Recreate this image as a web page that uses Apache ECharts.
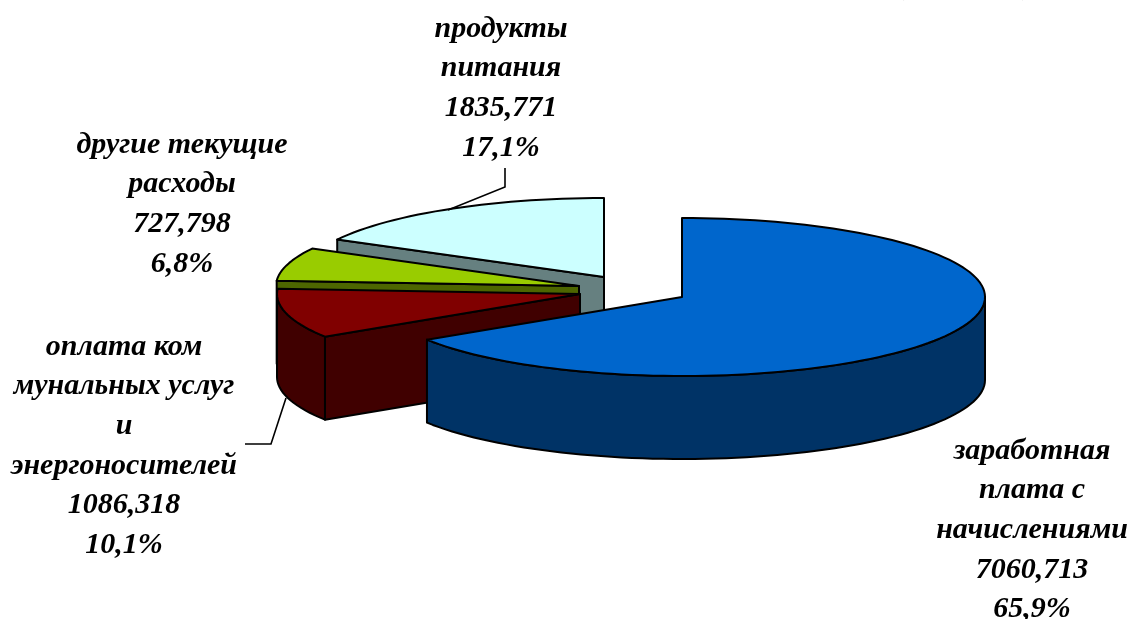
<!DOCTYPE html>
<html><head><meta charset="utf-8">
<style>html,body{margin:0;padding:0;background:#fff}#c{width:1128px;height:619px}</style>
<script src="https://cdn.jsdelivr.net/npm/echarts@6/dist/echarts.min.js"></script>
</head><body><div id="c"></div>
<script>
// Data
const categoryLines = [
  ['заработная','плата с','начислениями'],
  ['оплата ком','мунальных услуг','и','энергоносителей'],
  ['другие текущие','расходы'],
  ['продукты','питания']
];
const values = [7060.713, 1086.318, 727.798, 1835.771];
const valueLabels = ['7060,713','1086,318','727,798','1835,771'];
const percentLabels = ['65,9%','10,1%','6,8%','17,1%'];
const headerText = '(млн. грн.)';

// Presentation settings
const topColors  = ['#0066CC','#800000','#99CC00','#CCFFFF'];
const wallColors = ['#003366','#400000','#4D6600','#668080'];
const centers = [[682,297],[580,294],[579,286],[604,277]];
const labelAnchors = [[1032,451],[124,347],[182,145],[501,29]];
const RX = 303, RY = 79, DEPTH = 83, LINE_H = 39.6;
const leaders = [null, [[245,444],[271,444],[286,398]], null, [[505,168],[505,187],[448,210]]];
const drawOrder = [3,2,1,0]; // back slices first
const FONT = 'italic bold 30px "Liberation Serif","Times New Roman",serif';

const total = values.reduce((a,b)=>a+b,0);
const startAngles = []; // clockwise from 12 o'clock, degrees
let acc = 0;
values.forEach(v => { startAngles.push(acc/total*360); acc += v; });

function pt(c, deg, dz, api){
  const r = deg*Math.PI/180;
  return api.coord([c[0]+RX*Math.sin(r), c[1]-RY*Math.cos(r)+dz]);
}
function arc(c, a0, a1, dz, api){
  const out=[], n=Math.max(2,Math.ceil(Math.abs(a1-a0)/2));
  for(let i=0;i<=n;i++) out.push(pt(c,a0+(a1-a0)*i/n,dz,api));
  return out;
}
function poly(points, fill){
  return {type:'polygon',shape:{points},style:{fill,stroke:'#000',lineWidth:2,lineJoin:'round'}};
}
function renderItem(params, api){
  const i = api.value(0);
  const c = centers[i];
  const a0 = startAngles[i], a1 = a0 + api.value(1)/total*360;
  const kids=[];
  const cp = api.coord(c), cb = api.coord([c[0],c[1]+DEPTH]);
  // radial wall at the start edge, visible when it faces the viewer
  if(a0>=180){
    kids.push(poly([cp, pt(c,a0,0,api), pt(c,a0,DEPTH,api), cb], wallColors[i]));
  }
  // outer wall: the part of the rim on the near side (90..270 deg)
  const w0=Math.max(a0,90), w1=Math.min(a1,270);
  if(w1>w0){
    const top=arc(c,w0,w1,0,api), bot=arc(c,w1,w0,DEPTH,api);
    kids.push(poly(top.concat(bot), wallColors[i]));
  }
  // top face
  kids.push(poly([cp].concat(arc(c,a0,a1,0,api)), topColors[i]));
  // leader line
  if(leaders[i]) kids.push({type:'polyline',shape:{points:leaders[i].map(p=>api.coord(p))},style:{fill:'none',stroke:'#000',lineWidth:1.6}});
  return {type:'group',children:kids};
}
function labelItem(params, api){
  const i = api.value(0);
  const lines = categoryLines[i].concat([valueLabels[i],percentLabels[i]]);
  const a = labelAnchors[i];
  return {type:'group',children:lines.map((t,k)=>({
    type:'text',
    style:{text:t,x:api.coord(a)[0],y:api.coord([a[0],a[1]+k*LINE_H])[1],
      font:FONT,fill:'#000',textAlign:'center',textVerticalAlign:'middle'}
  }))};
}
const chart = echarts.init(document.getElementById('c'),null,{renderer:'canvas'});
const rows = drawOrder.map(i=>[i,values[i]]);
chart.setOption({
  animation:false,
  backgroundColor:'#fff',
  grid:{left:0,right:0,top:0,bottom:0},
  xAxis:{type:'value',min:0,max:1128,show:false},
  yAxis:{type:'value',min:0,max:619,inverse:true,show:false},
  tooltip:{show:false},
  graphic:[{type:'text',x:897,y:1,style:{text:headerText,font:FONT,fill:'#000',textVerticalAlign:'bottom'}}],
  series:[
    {type:'custom',coordinateSystem:'cartesian2d',renderItem,silent:true,clip:false,z:2,
     encode:{x:0,y:1},data:rows},
    {type:'custom',coordinateSystem:'cartesian2d',renderItem:labelItem,silent:true,clip:false,z:3,
     encode:{x:0,y:1},data:rows}
  ]
});
</script></body></html>
